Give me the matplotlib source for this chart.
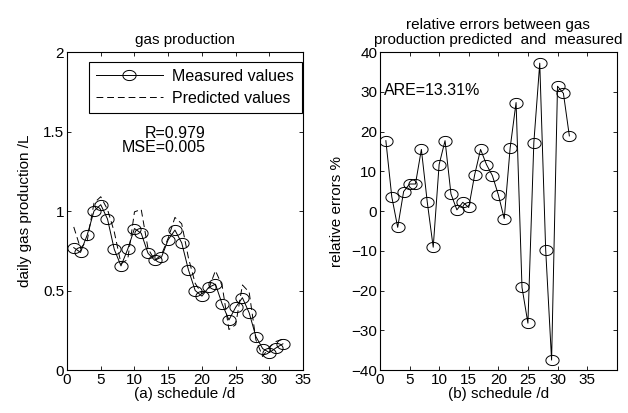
import numpy as np
import matplotlib
matplotlib.use("Agg")
import matplotlib.pyplot as plt
from matplotlib.path import Path

plt.rcParams['font.family'] = ['Liberation Sans', 'DejaVu Sans']
plt.rcParams['font.size'] = 10.5

# data
days = list(range(1, 33))
measured = [0.77, 0.74, 0.85, 1.00, 1.04, 0.95, 0.76, 0.655, 0.76, 0.89,
            0.86, 0.735, 0.69, 0.71, 0.82, 0.88, 0.80, 0.63, 0.50, 0.465,
            0.52, 0.54, 0.415, 0.315, 0.395, 0.455, 0.36, 0.21, 0.135, 0.11,
            0.14, 0.165]
predicted = [0.90, 0.765, 0.815, 1.05, 1.09, 1.01, 0.87, 0.67, 0.695, 0.995,
             1.01, 0.765, 0.69, 0.725, 0.83, 0.96, 0.92, 0.705, 0.545, 0.48,
             0.51, 0.625, 0.53, 0.255, 0.285, 0.535, 0.49, 0.19, 0.085, 0.145,
             0.18, 0.195]
rel_err = [17.7, 3.6, -4.1, 4.9, 6.8, 6.8, 15.5, 2.2, -9.1, 11.7,
           17.7, 4.3, 0.3, 2.2, 0.9, 9.1, 15.5, 11.7, 8.9, 4.1,
           -1.9, 15.9, 27.3, -19.2, -28.2, 17.2, 37.2, -9.7, -37.5, 31.4,
           29.6, 18.9]

# slightly wide ellipse marker like the stretched matlab circles
t = np.linspace(0, 2 * np.pi, 60)
ell = Path(np.column_stack([1.3 * np.cos(t), np.sin(t)]))

fig = plt.figure(figsize=(6.28, 4.13), dpi=100)
ax1 = fig.add_axes([0.1067, 0.104, 0.376, 0.770])
ax2 = fig.add_axes([0.605, 0.104, 0.377, 0.770])

for ax in (ax1, ax2):
    ax.tick_params(direction='in', top=True, right=True, length=3, width=0.6,
                   labelsize=11, pad=2)
    for s in ax.spines.values():
        s.set_linewidth(0.8)

# left: gas production
ax1.plot(days, measured, color='k', lw=0.7, marker=ell, ms=9.5,
         mfc='none', mec='k', mew=0.7, label='Measured values')
ax1.plot(days, predicted, color='k', lw=0.7, ls=(0, (7, 4)),
         label='Predicted values')
ax1.set_xlim(0, 35)
ax1.set_ylim(0, 2)
ax1.set_xticks(range(0, 36, 5))
ax1.set_yticks([0, 0.5, 1, 1.5, 2])
ax1.set_yticklabels(['0', '0.5', '1', '1.5', '2'])
ax1.set_title('gas production', fontsize=11, pad=6)
ax1.set_xlabel('(a) schedule /d', fontsize=11, labelpad=0)
ax1.set_ylabel('daily gas production /L', fontsize=11, labelpad=8)
leg = ax1.legend(loc='upper right', bbox_to_anchor=(1.0, 0.975), fontsize=11.5,
                 fancybox=False, framealpha=1, edgecolor='k',
                 handlelength=4.2, borderpad=0.45, labelspacing=0.45,
                 borderaxespad=0.1, handletextpad=0.6)
leg.get_frame().set_linewidth(0.8)
ax1.text(20.6, 1.49, 'R=0.979', ha='right', va='center', fontsize=11.5)
ax1.text(20.6, 1.40, 'MSE=0.005', ha='right', va='center', fontsize=11.5)

# right: relative errors
ax2.plot(days, rel_err, color='k', lw=0.7, marker=ell, ms=9.5,
         mfc='none', mec='k', mew=0.7)
ax2.set_xlim(0, 40)
ax2.set_ylim(-40, 40)
ax2.set_xticks(range(0, 36, 5))
ax2.set_yticks(range(-40, 41, 10))
ax2.set_title('relative errors between gas\nproduction predicted  and  measured',
              fontsize=11, pad=6, linespacing=1.1)
ax2.set_xlabel('(b) schedule /d', fontsize=11, labelpad=0)
ax2.set_ylabel('relative errors %', fontsize=11, labelpad=5)
ax2.text(0.7, 30.3, 'ARE=13.31%', ha='left', va='center', fontsize=11.5)

fig.savefig('out.png', dpi=100)
